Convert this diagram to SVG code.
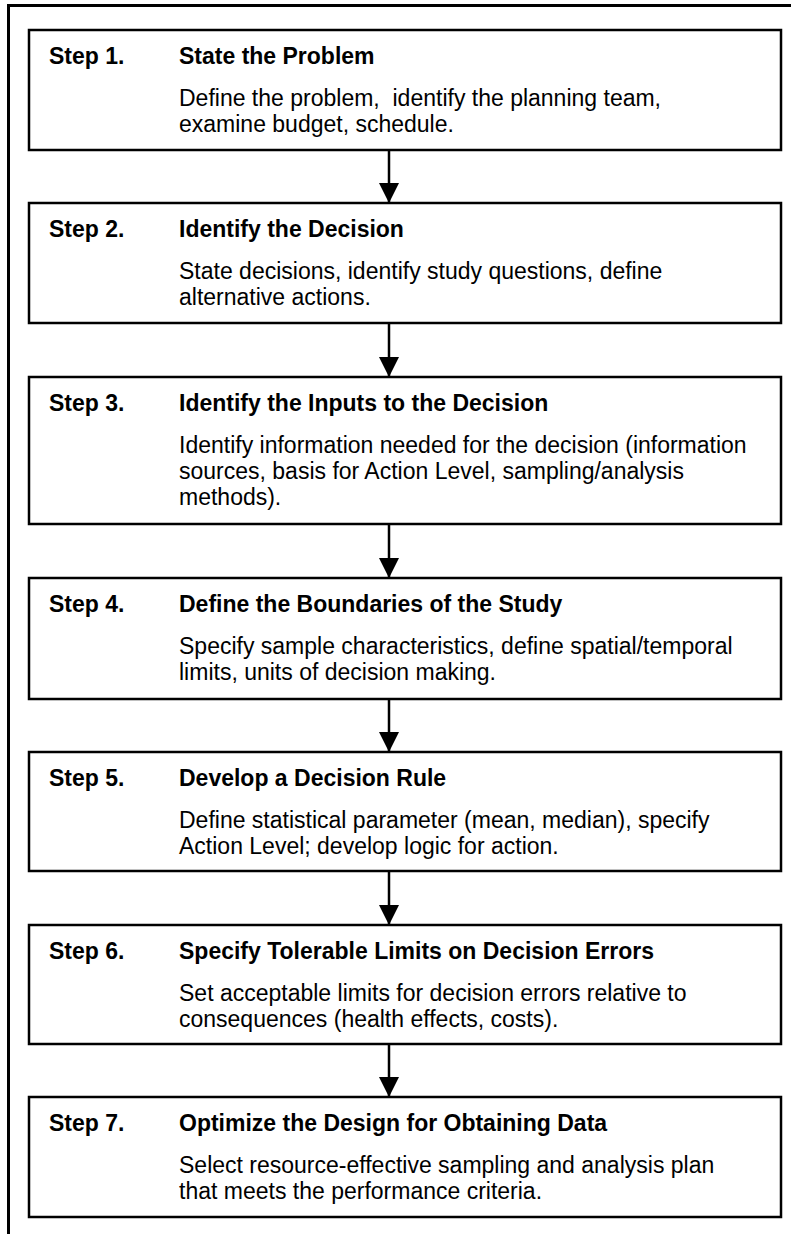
<svg xmlns="http://www.w3.org/2000/svg" width="791" height="1234" viewBox="0 0 791 1234">
<style>
.box{fill:#fff;stroke:#000;stroke-width:2.5}
.frame{fill:none;stroke:#000;stroke-width:3}
.step{font-family:"Liberation Sans",Arial,sans-serif;font-size:23px;font-weight:bold;fill:#000}
.title{font-family:"Liberation Sans",Arial,sans-serif;font-size:23px;font-weight:bold;fill:#000}
.body{font-family:"Liberation Sans",Arial,sans-serif;font-size:23px;fill:#000;white-space:pre}
.conn{stroke:#000;stroke-width:2.5;fill:none;marker-end:url(#arr)}
</style>
<defs>
<marker id="arr" markerUnits="userSpaceOnUse" markerWidth="22" markerHeight="22" refX="20" refY="10" orient="auto">
<path d="M0,0 L20,10 L0,20 Z" fill="#000"/>
</marker>
</defs>
<rect width="791" height="1234" fill="#fff"/>
<path class="frame" d="M8.5,1234 L8.5,5.5 L791,5.5"/>
<g id="connectors">
<line class="conn" x1="389" y1="150" x2="389" y2="203"/>
<line class="conn" x1="389" y1="323" x2="389" y2="377"/>
<line class="conn" x1="389" y1="524" x2="389" y2="578"/>
<line class="conn" x1="389" y1="699" x2="389" y2="752"/>
<line class="conn" x1="389" y1="871" x2="389" y2="925"/>
<line class="conn" x1="389" y1="1044" x2="389" y2="1097"/>
</g>
<g id="step1">
<rect class="box" x="29" y="30" width="752" height="120"/>
<text class="step" x="49" y="64">Step 1.</text>
<text class="title" x="179" y="64">State the Problem</text>
<text class="body" x="179" y="106">Define the problem,  identify the planning team,</text>
<text class="body" x="179" y="132">examine budget, schedule.</text>
</g>
<g id="step2">
<rect class="box" x="29" y="203" width="752" height="120"/>
<text class="step" x="49" y="237">Step 2.</text>
<text class="title" x="179" y="237">Identify the Decision</text>
<text class="body" x="179" y="279">State decisions, identify study questions, define</text>
<text class="body" x="179" y="305">alternative actions.</text>
</g>
<g id="step3">
<rect class="box" x="29" y="377" width="752" height="147"/>
<text class="step" x="49" y="411">Step 3.</text>
<text class="title" x="179" y="411">Identify the Inputs to the Decision</text>
<text class="body" x="179" y="453">Identify information needed for the decision (information</text>
<text class="body" x="179" y="479">sources, basis for Action Level, sampling/analysis</text>
<text class="body" x="179" y="505">methods).</text>
</g>
<g id="step4">
<rect class="box" x="29" y="578" width="752" height="121"/>
<text class="step" x="49" y="612">Step 4.</text>
<text class="title" x="179" y="612">Define the Boundaries of the Study</text>
<text class="body" x="179" y="654">Specify sample characteristics, define spatial/temporal</text>
<text class="body" x="179" y="680">limits, units of decision making.</text>
</g>
<g id="step5">
<rect class="box" x="29" y="752" width="752" height="119"/>
<text class="step" x="49" y="786">Step 5.</text>
<text class="title" x="179" y="786">Develop a Decision Rule</text>
<text class="body" x="179" y="828">Define statistical parameter (mean, median), specify</text>
<text class="body" x="179" y="854">Action Level; develop logic for action.</text>
</g>
<g id="step6">
<rect class="box" x="29" y="925" width="752" height="119"/>
<text class="step" x="49" y="959">Step 6.</text>
<text class="title" x="179" y="959">Specify Tolerable Limits on Decision Errors</text>
<text class="body" x="179" y="1001">Set acceptable limits for decision errors relative to</text>
<text class="body" x="179" y="1027">consequences (health effects, costs).</text>
</g>
<g id="step7">
<rect class="box" x="29" y="1097" width="752" height="120"/>
<text class="step" x="49" y="1131">Step 7.</text>
<text class="title" x="179" y="1131">Optimize the Design for Obtaining Data</text>
<text class="body" x="179" y="1173">Select resource-effective sampling and analysis plan</text>
<text class="body" x="179" y="1199">that meets the performance criteria.</text>
</g>
</svg>
